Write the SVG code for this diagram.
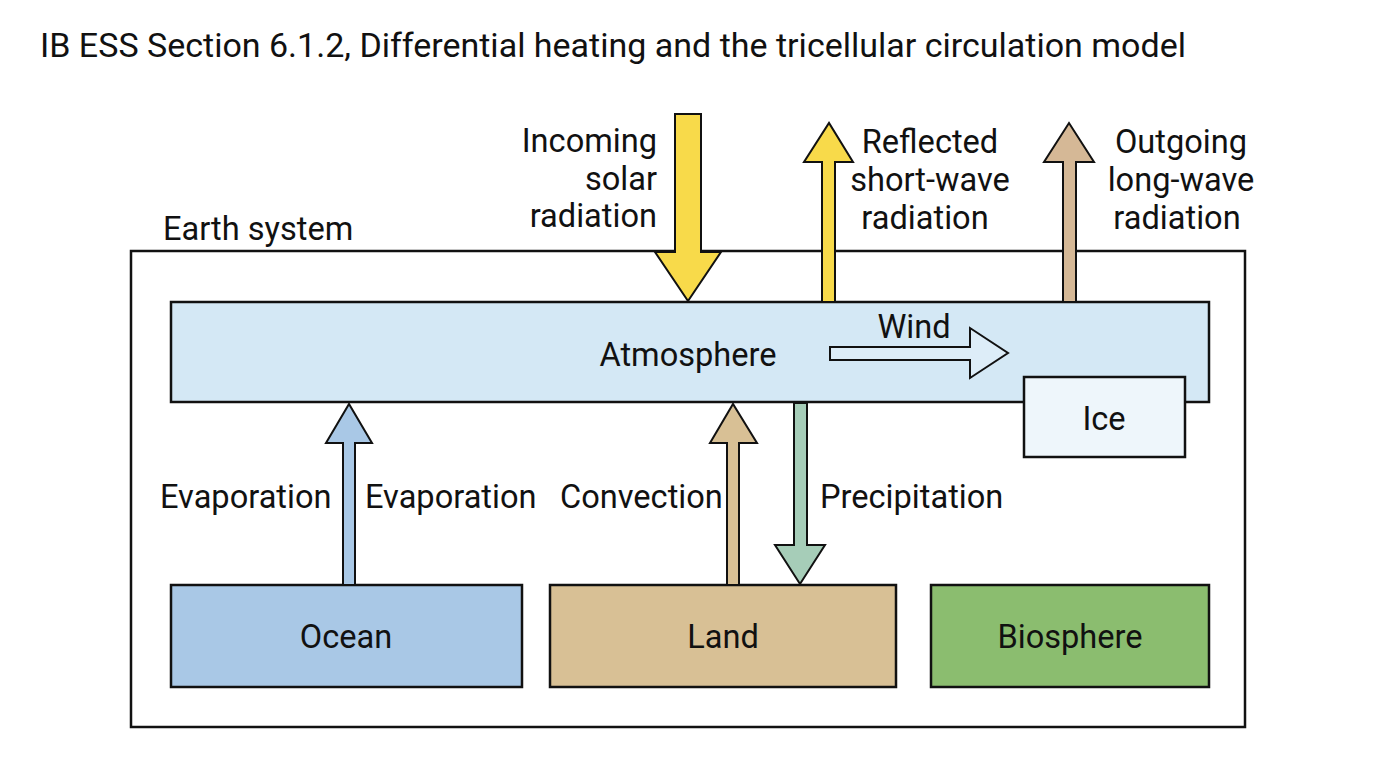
<svg xmlns="http://www.w3.org/2000/svg" width="1376" height="768" viewBox="0 0 1376 768">
<style>
text{font-family:Roboto,"Liberation Sans",sans-serif;font-size:32.6px;fill:#111}
.title{font-size:34px}
.box{stroke:#111;stroke-width:2.5}
.arr{stroke:#111;stroke-width:2;stroke-linejoin:miter}
.c{text-anchor:middle}
.r{text-anchor:end}
</style>
<rect width="1376" height="768" fill="#fff"/>
<text class="title" x="40" y="57">IB ESS Section 6.1.2, Differential heating and the tricellular circulation model</text>
<g id="earth-system">
<rect class="box" x="131" y="251" width="1114" height="476" fill="#fff"/>
<text x="163" y="240">Earth system</text>
</g>
<g id="atmosphere">
<rect class="box" x="171" y="302" width="1038" height="100" fill="#d4e8f5"/>
<text class="c" x="688" y="366">Atmosphere</text>
</g>
<g id="ice">
<rect class="box" x="1024" y="377" width="161" height="80" fill="#eef6fb"/>
<text class="c" x="1104" y="430">Ice</text>
</g>
<g id="ocean">
<rect class="box" x="171" y="585" width="351" height="102" fill="#a9c8e6"/>
<text class="c" x="346" y="648">Ocean</text>
</g>
<g id="land">
<rect class="box" x="550" y="585" width="346" height="102" fill="#d8c095"/>
<text class="c" x="723" y="648">Land</text>
</g>
<g id="biosphere">
<rect class="box" x="931" y="585" width="278" height="102" fill="#8bbd6f"/>
<text class="c" x="1070" y="648">Biosphere</text>
</g>
<g id="connectors">
<polygon class="arr" fill="#f8da4a" points="675,114 701,114 701,252 721,252 688,301 655,252 675,252"/>
<polygon class="arr" fill="#f8da4a" points="822,302 822,162 804,162 829,123 853,162 835,162 835,302"/>
<polygon class="arr" fill="#d5b896" points="1063,302 1063,162 1044,162 1069,123 1094,162 1076,162 1076,302"/>
<polygon class="arr" fill="#ddedf8" points="830,347 970,347 970,328 1008,353 970,378 970,360 830,360"/>
<polygon class="arr" fill="#a9c8e6" points="343,585 343,443 326,443 349,404 372,443 355,443 355,585"/>
<polygon class="arr" fill="#d8c095" points="727,585 727,443 710,443 733,404 757,443 739,443 739,585"/>
<polygon class="arr" fill="#a6cdb8" points="794,403 807,403 807,545 825,545 800,584 775,545 794,545"/>
<text class="r" x="657" y="152">Incoming</text>
<text class="r" x="657" y="190">solar</text>
<text class="r" x="657" y="227">radiation</text>
<text class="c" x="930" y="153">Reflected</text>
<text class="c" x="930" y="191">short-wave</text>
<text class="c" x="925" y="229">radiation</text>
<text class="c" x="1181" y="153">Outgoing</text>
<text class="c" x="1181" y="191">long-wave</text>
<text class="c" x="1177" y="229">radiation</text>
<text class="c" x="914" y="338">Wind</text>
<text x="160" y="508">Evaporation</text>
<text x="365" y="508">Evaporation</text>
<text x="560" y="508">Convection</text>
<text x="820" y="508">Precipitation</text>
</g>
</svg>
